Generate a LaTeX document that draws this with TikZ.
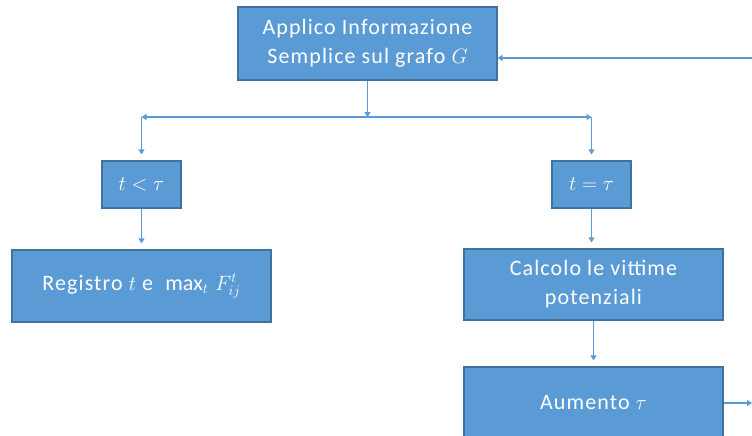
\documentclass[tikz,border=0pt]{standalone}
\usepackage{fontspec}
\setmainfont[LetterSpace=5]{Carlito}
\usetikzlibrary{arrows.meta}
\definecolor{boxfill}{HTML}{5B9BD5}
\definecolor{boxedge}{HTML}{41719C}
\begin{document}
\begin{tikzpicture}[x=1pt,y=-1pt,
  flowbox/.style={draw=boxedge,fill=boxfill,line width=1.2pt,text=white,
    align=center,inner sep=0pt,font=\fontsize{22}{29}\selectfont},
  link/.style={draw=boxfill,line width=1.3pt,
    -{Triangle[width=6pt,length=5pt]}},
  tobox/.style={link,shorten >=6pt}]
\useasboundingbox (0,0) rectangle (752,436);
\begin{scope}
\clip (0,0) rectangle (752,436);
% process boxes
\node[flowbox,minimum width=259,minimum height=73] (apply) at (367.5,43.5)
  {Applico Informazione\\Semplice sul grafo $G$};
\node[flowbox,minimum width=79,minimum height=47] (less) at (141.5,184.5)
  {$t<\tau$};
\node[flowbox,minimum width=79,minimum height=47] (equal) at (591.5,184.5)
  {$t=\tau$};
\node[flowbox,minimum width=259,minimum height=72] (record) at (141.5,286)
  {Registro $t$ e \ $\max_t\,F_{ij}^t$};
\node[flowbox,minimum width=259,minimum height=71] (victims) at (593.5,284.5)
  {Calcolo le vittime\\potenziali};
\node[flowbox,minimum width=259,minimum height=71] (raise) at (593.5,402.5)
  {Aumento $\tau$};
% branching
\coordinate (split) at (apply.south |- 0,117);
\coordinate (cornerL) at (less.north |- split);
\coordinate (cornerR) at (equal.north |- split);
\draw[link] (apply.south) -- (split);
\draw[link] (split) -- (cornerL);
\draw[link] (split) -- (cornerR);
\draw[tobox] (cornerL) -- (less.north);
\draw[tobox] (cornerR) -- (equal.north);
\draw[tobox] (less.south) -- (record.north);
\draw[tobox] (equal.south) -- (equal.south |- victims.north);
\draw[tobox] (victims.south) -- (raise.north);
% loop back to the first step
\coordinate (loopIn) at (752,58);
\coordinate (loopOut) at (752,403);
\draw[link] (loopIn) -- (loopIn -| apply.east);
\draw[link] (raise.east |- loopOut) -- (loopOut);
\end{scope}
\end{tikzpicture}
\end{document}
